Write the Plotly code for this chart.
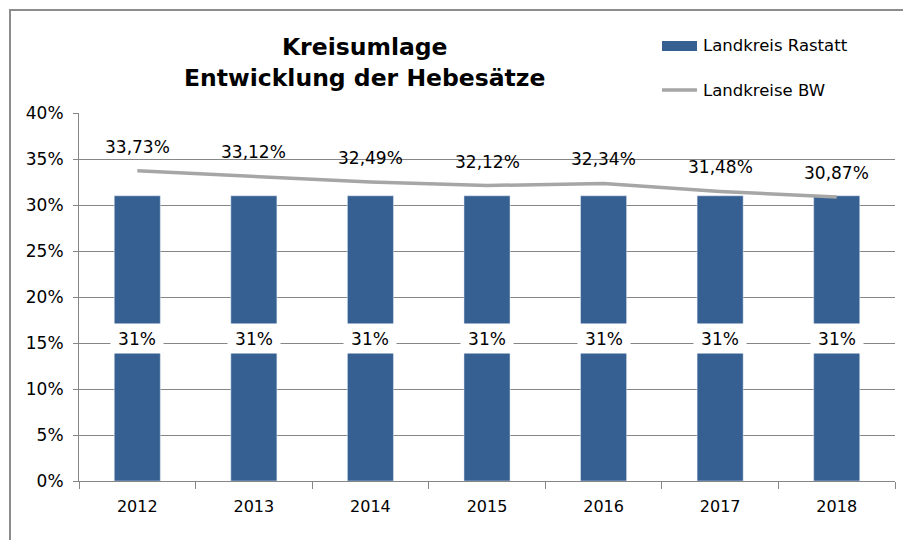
import plotly.graph_objects as go

years = ["2012", "2013", "2014", "2015", "2016", "2017", "2018"]
rastatt = [31, 31, 31, 31, 31, 31, 31]
bw = [33.73, 33.12, 32.49, 32.12, 32.34, 31.48, 30.87]
rastatt_labels = ["31%"] * 7
bw_labels = ["33,73%", "33,12%", "32,49%", "32,12%", "32,34%", "31,48%", "30,87%"]
yticks = [0, 5, 10, 15, 20, 25, 30, 35, 40]

FONT = "DejaVu Sans"
BLUE = "#366092"
LINEGRAY = "#A6A6A6"
GRID = "#868686"

fig = go.Figure()
fig.add_trace(go.Bar(x=years, y=rastatt, name="Landkreis Rastatt", marker_color=BLUE,
                     width=0.395, showlegend=False))
fig.add_trace(go.Scatter(x=years, y=bw, name="Landkreise BW", mode="lines",
                         line=dict(color=LINEGRAY, width=3.5), showlegend=False))

annotations = []
for i, (v, t) in enumerate(zip(rastatt, rastatt_labels)):
    annotations.append(dict(x=i, y=v / 2, text=t, showarrow=False, bgcolor="white",
                            width=50, height=27, font=dict(family=FONT, size=17, color="black"),
                            xref="x", yref="y"))
for i, (v, t) in enumerate(zip(bw, bw_labels)):
    annotations.append(dict(x=i, y=v, text=t, showarrow=False, yshift=24,
                            font=dict(family=FONT, size=17, color="black"),
                            xref="x", yref="y"))


# helpers: convert screenshot pixel positions to paper coordinates
def px_x(p):
    return (p - 79) / 816


def px_y(p):
    return (481 - p) / 368


# title
annotations.append(dict(text="<b>Kreisumlage<br>Entwicklung der Hebesätze</b>", xref="paper", yref="paper",
                        x=px_x(364), y=px_y(63), xanchor="center", yanchor="middle",
                        showarrow=False, align="center",
                        font=dict(family=FONT, size=23.5, color="black")))

annotations.append(dict(text="Landkreis Rastatt", xref="paper", yref="paper", x=px_x(701), y=px_y(46),
                        xanchor="left", yanchor="middle", showarrow=False,
                        font=dict(family=FONT, size=16.5, color="black")))
annotations.append(dict(text="Landkreise BW", xref="paper", yref="paper", x=px_x(701), y=px_y(90),
                        xanchor="left", yanchor="middle", showarrow=False,
                        font=dict(family=FONT, size=16.5, color="black")))

shapes = [
    dict(type="rect", xref="paper", yref="paper", x0=px_x(662), x1=px_x(697), y0=px_y(51), y1=px_y(41),
         fillcolor=BLUE, line=dict(width=0)),
    dict(type="line", xref="paper", yref="paper", x0=px_x(662), x1=px_x(697), y0=px_y(90), y1=px_y(90),
         line=dict(color=LINEGRAY, width=3.5)),
    dict(type="rect", xref="paper", yref="paper", x0=px_x(10), x1=px_x(960), y0=px_y(580), y1=px_y(10),
         line=dict(color="#8C8C8C", width=2), fillcolor="rgba(0,0,0,0)", layer="below"),
]

fig.update_layout(
    width=911, height=540,
    margin=dict(l=71, r=24, t=105, b=67),
    paper_bgcolor="white", plot_bgcolor="white",
    font=dict(family=FONT, size=17, color="black"),
    annotations=annotations, shapes=shapes,
    showlegend=False,
    xaxis=dict(type="category", showline=True, linecolor=GRID, linewidth=1,
               ticks="outside", tickson="boundaries", ticklen=7, tickcolor=GRID,
               ticklabelstandoff=11,
               tickfont=dict(family=FONT, size=16, color="black"), showgrid=False,
               automargin=False),
    yaxis=dict(range=[0, 40], tickvals=yticks, ticktext=[f"{v}%" for v in yticks],
               showline=True, linecolor=GRID, linewidth=1, gridcolor=GRID, gridwidth=1,
               ticks="outside", ticklen=5, tickcolor=GRID, zeroline=False, automargin=False,
               ticklabelstandoff=6,
               tickfont=dict(family=FONT, size=17, color="black")),
)

fig.write_html("out.html")
